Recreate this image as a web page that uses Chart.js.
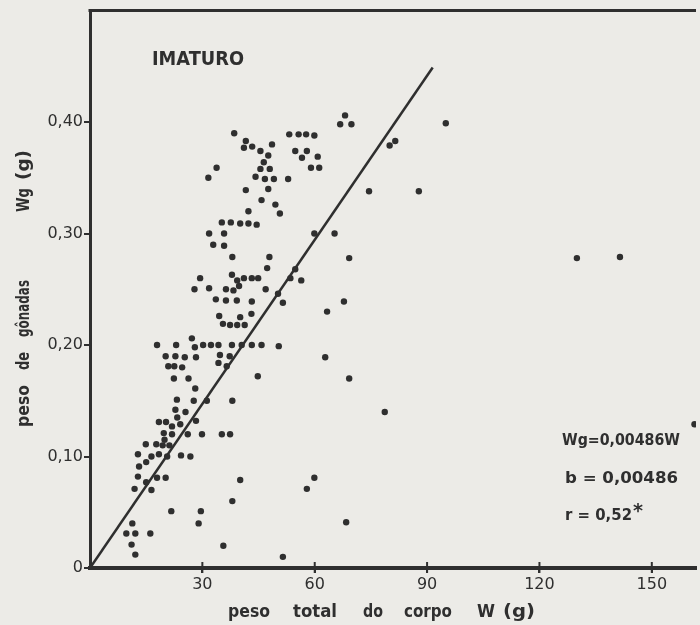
<!DOCTYPE html>
<html>
<head>
<meta charset="utf-8">
<script src="https://cdn.jsdelivr.net/npm/chart.js@4.4.1/dist/chart.umd.min.js"></script>
<style>
  html, body { margin: 0; padding: 0; background: #ecebe7; }
  canvas { display: block; }
</style>
</head>
<body>
<canvas id="grafico" width="700" height="625"></canvas>
<script>
// peso total do corpo W (g) / peso de gônadas Wg (g) - imaturo
const pesoTotal = [
  68.1, 66.8, 69.8, 80.0, 81.5, 38.5, 41.6, 41.1, 43.3, 45.5,
  48.6, 47.6, 46.4, 45.5, 48.0, 44.2, 46.7, 49.1, 52.9, 53.2,
  55.7, 57.7, 59.9, 54.8, 57.9, 56.6, 60.8, 59.0, 61.2, 31.6,
  33.8, 41.6, 47.6, 45.8, 74.5, 49.5, 50.7, 42.3, 35.2, 37.6,
  40.1, 42.3, 44.5, 31.8, 35.8, 32.9, 35.8, 38.0, 47.9, 47.3,
  29.4, 37.9, 39.3, 41.1, 43.2, 44.9, 27.9, 31.8, 36.3, 38.3,
  39.8, 46.9, 33.6, 36.3, 39.2, 43.2, 43.1, 34.5, 40.1, 35.5,
  37.4, 39.3, 41.3, 50.2, 51.5, 53.5, 54.8, 56.4, 59.9, 65.3,
  69.2, 67.8, 63.3, 17.9, 23.0, 27.2, 28.0, 30.2, 32.3, 34.3,
  37.9, 40.5, 43.2, 45.8, 50.4, 20.2, 22.8, 25.3, 28.3, 34.7,
  37.3, 20.9, 22.5, 24.6, 34.3, 36.5, 62.8, 22.4, 26.3, 44.8,
  69.2, 28.1, 23.2, 27.7, 31.2, 38.0, 78.7, 22.8, 25.5, 23.3,
  18.4, 20.3, 21.9, 24.1, 28.3, 19.7, 21.9, 26.1, 29.9, 35.2,
  37.4, 19.9, 14.9, 17.7, 19.4, 21.2, 12.8, 16.4, 18.4, 20.6,
  24.3, 26.8, 15.0, 13.1, 12.8, 17.9, 20.2, 11.9, 16.4, 15.0,
  40.1, 38.0, 59.9, 57.9, 21.7, 29.6, 29.0, 68.4, 11.3, 9.7,
  12.1, 16.1, 11.1, 12.1, 35.6, 51.5, 95.0, 87.8, 130.0, 141.5,
  161.4
];
const pesoGonadas = [
  0.406, 0.398, 0.398, 0.379, 0.383, 0.390, 0.383, 0.377, 0.378, 0.374,
  0.380, 0.370, 0.364, 0.358, 0.358, 0.351, 0.349, 0.349, 0.349, 0.389,
  0.389, 0.389, 0.388, 0.374, 0.374, 0.368, 0.369, 0.359, 0.359, 0.350,
  0.359, 0.339, 0.340, 0.330, 0.338, 0.326, 0.318, 0.320, 0.310, 0.310,
  0.309, 0.309, 0.308, 0.300, 0.300, 0.290, 0.289, 0.279, 0.279, 0.269,
  0.260, 0.263, 0.258, 0.260, 0.260, 0.260, 0.250, 0.251, 0.250, 0.249,
  0.253, 0.250, 0.241, 0.240, 0.240, 0.239, 0.228, 0.226, 0.225, 0.219,
  0.218, 0.218, 0.218, 0.246, 0.238, 0.260, 0.268, 0.258, 0.300, 0.300,
  0.278, 0.239, 0.230, 0.200, 0.200, 0.206, 0.198, 0.200, 0.200, 0.200,
  0.200, 0.200, 0.200, 0.200, 0.199, 0.190, 0.190, 0.189, 0.189, 0.191,
  0.190, 0.181, 0.181, 0.180, 0.184, 0.181, 0.189, 0.170, 0.170, 0.172,
  0.170, 0.161, 0.151, 0.150, 0.150, 0.150, 0.140, 0.142, 0.140, 0.135,
  0.131, 0.131, 0.127, 0.129, 0.132, 0.121, 0.120, 0.120, 0.120, 0.120,
  0.120, 0.115, 0.111, 0.111, 0.110, 0.110, 0.102, 0.100, 0.102, 0.100,
  0.101, 0.100, 0.095, 0.091, 0.082, 0.081, 0.081, 0.071, 0.070, 0.077,
  0.079, 0.060, 0.081, 0.071, 0.051, 0.051, 0.040, 0.041, 0.040, 0.031,
  0.031, 0.031, 0.021, 0.012, 0.020, 0.010, 0.399, 0.338, 0.278, 0.279,
  0.129
];

// reta ajustada Wg = 0,00486 W
const retaX = [0, 91.5];
const retaY = [0, 0.449];

const xTickValues = [30, 60, 90, 120, 150];
const xTickLabels = ["30", "60", "90", "120", "150"];
const yTickValues = [0, 0.1, 0.2, 0.3, 0.4];
const yTickLabels = ["0", "0,10", "0,20", "0,30", "0,40"];

const tinta = "#2f2f2f";
const papel = "#ecebe7";
const fonte = "DejaVu Sans";

// draws a word squeezed to a given width (lettering of the scan is narrow)
function palavra(ctx, txt, x, y, size, largura, rot, peso) {
  ctx.save();
  ctx.font = (peso || "bold") + " " + size + "px '" + fonte + "'";
  ctx.fillStyle = tinta;
  ctx.textBaseline = "alphabetic";
  ctx.textAlign = "left";
  ctx.translate(x, y);
  if (rot) ctx.rotate(-Math.PI / 2);
  const w = ctx.measureText(txt).width;
  ctx.scale(largura / w, 1);
  ctx.fillText(txt, 0, 0);
  ctx.restore();
}

const papelPlugin = {
  id: "papel",
  beforeDraw(chart) {
    const ctx = chart.ctx;
    ctx.save();
    ctx.fillStyle = papel;
    ctx.fillRect(0, 0, chart.width, chart.height);
    ctx.restore();
  },
  afterDraw(chart) {
    const ctx = chart.ctx;
    const a = chart.chartArea;
    const xs = chart.scales.x;
    ctx.save();
    ctx.strokeStyle = tinta;
    // top frame line
    ctx.lineWidth = 3;
    ctx.beginPath();
    ctx.moveTo(a.left - 1.5, a.top);
    ctx.lineTo(a.right, a.top);
    ctx.stroke();
    // x ticks cross the axis
    ctx.lineWidth = 2;
    xs.ticks.forEach(t => {
      const px = xs.getPixelForValue(t.value);
      ctx.beginPath();
      ctx.moveTo(px, a.bottom - 6);
      ctx.lineTo(px, a.bottom + 5);
      ctx.stroke();
    });
    ctx.restore();

    palavra(ctx, "IMATURO", 152, 65, 20, 92);

    // x title
    const xt = [["peso", 228, 42], ["total", 293, 44], ["do", 363, 20],
                ["corpo", 404, 48], ["W", 477, 18], ["(g)", 503, 32]];
    xt.forEach(p => palavra(ctx, p[0], p[1], 617, 18, p[2]));

    // y title, rotated
    const yt = [["peso", 427, 42], ["de", 370, 18], ["gônadas", 337, 57],
                ["Wg", 212, 24], ["(g)", 180, 30]];
    yt.forEach(p => palavra(ctx, p[0], 29, p[1], 18, p[2], true));

    // regression text
    palavra(ctx, "Wg=0,00486W", 562, 445, 16, 118);
    palavra(ctx, "b = 0,00486", 565, 483, 15, 113);
    palavra(ctx, "r = 0,52", 565, 520, 15, 67);
    palavra(ctx, "*", 633, 517, 20, 10);
  }
};

new Chart(document.getElementById("grafico"), {
  type: "scatter",
  data: {
    datasets: [
      {
        label: "imaturo",
        data: pesoTotal.map((w, i) => ({ x: w, y: pesoGonadas[i] })),
        backgroundColor: tinta,
        borderColor: tinta,
        pointRadius: 3.2,
        borderWidth: 0
      },
      {
        type: "line",
        label: "reta",
        data: retaX.map((w, i) => ({ x: w, y: retaY[i] })),
        borderColor: tinta,
        borderWidth: 2.5,
        pointRadius: 0,
        fill: false
      }
    ]
  },
  options: {
    responsive: false,
    animation: false,
    devicePixelRatio: 1,
    layout: { padding: { top: 7, right: 0, left: 0, bottom: 0 } },
    plugins: {
      legend: { display: false },
      tooltip: { enabled: false }
    },
    scales: {
      x: {
        type: "linear",
        min: 0,
        max: 161.8,
        afterFit(s) { s.height = 57; },
        afterBuildTicks(s) { s.ticks = xTickValues.map(v => ({ value: v })); },
        ticks: {
          color: tinta,
          font: { family: fonte, size: 16 },
          padding: 2,
          maxRotation: 0,
          callback: (v) => xTickLabels[xTickValues.indexOf(v)]
        },
        grid: { display: true, drawOnChartArea: false, drawTicks: true, tickLength: 5, color: tinta, lineWidth: 2 },
        border: { display: true, color: tinta, width: 4 }
      },
      y: {
        type: "linear",
        min: 0,
        max: 0.5,
        afterFit(s) { s.width = 90; },
        afterBuildTicks(s) { s.ticks = yTickValues.map(v => ({ value: v })); },
        ticks: {
          color: tinta,
          font: { family: fonte, size: 16 },
          padding: 1,
          callback: (v) => yTickLabels[yTickValues.findIndex(t => Math.abs(t - v) < 1e-9)]
        },
        grid: { display: true, drawOnChartArea: false, drawTicks: true, tickLength: 6, color: tinta, lineWidth: 2 },
        border: { display: true, color: tinta, width: 3 }
      }
    }
  },
  plugins: [papelPlugin]
});
</script>
</body>
</html>
